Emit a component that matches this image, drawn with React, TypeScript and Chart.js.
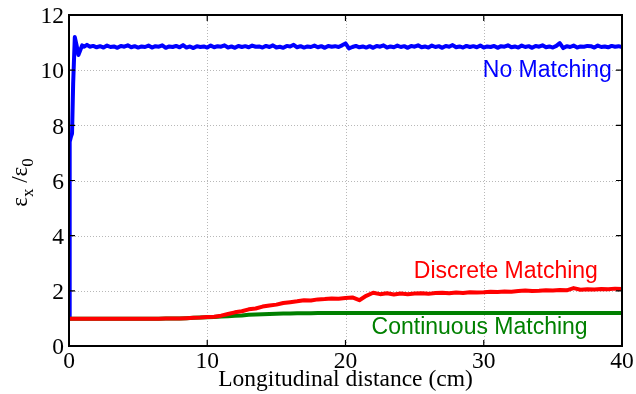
import React, { useEffect, useRef } from "react";
import { Chart, registerables } from "chart.js";

Chart.register(...registerables);

const distance = [
  0, 0.5, 1, 1.5, 2, 2.5, 3, 3.5, 4, 4.5, 5, 5.5, 6, 6.5, 7, 7.5, 8, 8.5, 9, 9.5,
  10, 10.5, 11, 11.5, 12, 12.5, 13, 13.5, 14, 14.5, 15, 15.5, 16, 16.5, 17, 17.5, 18, 18.5, 19, 19.5,
  20, 20.5, 21, 21.5, 22, 22.5, 23, 23.5, 24, 24.5, 25, 25.5, 26, 26.5, 27, 27.5, 28, 28.5, 29, 29.5,
  30, 30.5, 31, 31.5, 32, 32.5, 33, 33.5, 34, 34.5, 35, 35.5, 36, 36.5, 37, 37.5, 38, 38.5, 39, 39.5, 40,
];

const discreteMatching = [
  0.99, 0.99, 0.99, 0.99, 0.99, 0.99, 0.99, 0.99, 0.99, 0.99, 0.99, 0.99, 0.99, 0.99, 1.0, 1.0, 1.0, 1.01, 1.02, 1.03,
  1.05, 1.06, 1.1, 1.16, 1.22, 1.26, 1.33, 1.36, 1.43, 1.47, 1.5, 1.56, 1.59, 1.62, 1.66, 1.65, 1.69, 1.7, 1.72, 1.71,
  1.74, 1.76, 1.66, 1.82, 1.93, 1.88, 1.91, 1.87, 1.9, 1.88, 1.9, 1.91, 1.89, 1.92, 1.93, 1.91, 1.94, 1.92, 1.95, 1.94,
  1.95, 1.97, 1.96, 1.98, 1.97, 1.99, 2.01, 1.99, 2.0, 2.02, 2.01, 2.03, 2.02, 2.1, 2.04, 2.06, 2.05, 2.07, 2.06, 2.08, 2.07,
];

const continuousMatching = [
  0.99, 0.99, 0.99, 0.99, 0.99, 0.99, 0.99, 0.99, 0.99, 0.99, 0.99, 0.99, 0.99, 0.99, 1.0, 1.0, 1.0, 1.01, 1.02, 1.03,
  1.04, 1.05, 1.07, 1.08, 1.1, 1.11, 1.13, 1.14, 1.15, 1.16, 1.17, 1.175, 1.18, 1.185, 1.19, 1.19, 1.195, 1.195, 1.2, 1.2,
  1.2, 1.2, 1.2, 1.2, 1.2, 1.2, 1.2, 1.2, 1.2, 1.2, 1.2, 1.2, 1.2, 1.2, 1.2, 1.2, 1.2, 1.2, 1.2, 1.2,
  1.2, 1.2, 1.2, 1.2, 1.2, 1.2, 1.2, 1.2, 1.2, 1.2, 1.2, 1.2, 1.2, 1.2, 1.2, 1.2, 1.2, 1.2, 1.2, 1.2, 1.2,
];

// first, densely sampled part of the "No Matching" curve
const noMatchingStartX = [0, 0.05, 0.15, 0.22, 0.3, 0.42, 0.55, 0.68, 0.8, 0.95, 1.1, 1.3, 1.5];
const noMatchingStart = [1.0, 7.4, 7.6, 7.7, 9.5, 11.2, 10.9, 10.55, 10.7, 10.9, 10.85, 10.92, 10.85];
// rest of the curve, sampled every 0.25 cm from 1.75 to 40
const noMatchingTailStart = 1.75;
const noMatchingTailStep = 0.25;
const noMatchingTail = [
  10.88, 10.83, 10.87, 10.82, 10.89, 10.84, 10.86, 10.81, 10.88, 10.85, 10.9, 10.83, 10.87, 10.82, 10.86, 10.84,
  10.89, 10.82, 10.87, 10.85, 10.9, 10.81, 10.86, 10.84, 10.88, 10.83, 10.91, 10.82, 10.86, 10.8, 10.87, 10.84,
  10.86, 10.82, 10.89, 10.83, 10.87, 10.85, 10.9, 10.82, 10.86, 10.81, 10.88, 10.84, 10.87, 10.83, 10.89, 10.85,
  10.86, 10.82, 10.88, 10.84, 10.9, 10.82, 10.85, 10.81, 10.88, 10.86, 10.92, 10.83, 10.87, 10.82, 10.86, 10.84,
  10.89, 10.83, 10.87, 10.81, 10.88, 10.85, 10.87, 10.84, 10.9, 10.97, 10.79, 10.84, 10.88, 10.83, 10.86, 10.82,
  10.87, 10.81, 10.88, 10.85, 10.9, 10.82, 10.86, 10.83, 10.89, 10.84, 10.87, 10.81, 10.88, 10.85, 10.9, 10.83,
  10.86, 10.82, 10.89, 10.84, 10.87, 10.81, 10.88, 10.85, 10.91, 10.83, 10.86, 10.82, 10.88, 10.84, 10.87, 10.83,
  10.89, 10.82, 10.86, 10.84, 10.88, 10.81, 10.87, 10.85, 10.9, 10.83, 10.86, 10.82, 10.89, 10.84, 10.87, 10.81,
  10.88, 10.85, 10.9, 10.83, 10.86, 10.82, 10.88, 10.98, 10.8, 10.87, 10.84, 10.89, 10.82, 10.86, 10.85, 10.88,
  10.87, 10.82, 10.89, 10.84, 10.86, 10.83, 10.88, 10.85,
  10.87, 10.84,
];

const xTicks = [0, 10, 20, 30, 40];
const yTicks = [0, 2, 4, 6, 8, 10, 12];

const seriesLabels = [
  { text: "No Matching", x: 34.6, y: 9.97, color: "#0000ff" },
  { text: "Discrete Matching", x: 31.6, y: 2.68, color: "#ff0000" },
  { text: "Continuous Matching", x: 29.7, y: 0.65, color: "#008000" },
];

const xTitle = "Longitudinal distance (cm)";

function zip(xs: number[], ys: number[]) {
  const n = Math.min(xs.length, ys.length);
  const out: { x: number; y: number }[] = [];
  for (let i = 0; i < n; i++) out.push({ x: xs[i], y: ys[i] });
  return out;
}

const noMatchingX = [
  ...noMatchingStartX,
  ...noMatchingTail.map((_, i) => noMatchingTailStart + i * noMatchingTailStep),
];
const noMatchingY = [...noMatchingStart, ...noMatchingTail];

const serif = "'Liberation Serif', 'DejaVu Serif', serif";
const sans = "'Liberation Sans', Arial, sans-serif";

const decorPlugin = {
  id: "decor",
  beforeDatasetsDraw(chart: any) {
    const { ctx, chartArea: a, scales } = chart;
    const xs = scales.x;
    const ys = scales.y;
    ctx.save();
    ctx.strokeStyle = "#b8b8b8";
    ctx.lineWidth = 1;
    ctx.setLineDash([1, 2]);
    for (const t of xTicks) {
      const px = Math.round(xs.getPixelForValue(t)) + 0.5;
      if (t === xTicks[0] || t === xTicks[xTicks.length - 1]) continue;
      ctx.beginPath();
      ctx.moveTo(px, a.top);
      ctx.lineTo(px, a.bottom);
      ctx.stroke();
    }
    for (const t of yTicks) {
      const py = Math.round(ys.getPixelForValue(t)) + 0.5;
      if (t === yTicks[0] || t === yTicks[yTicks.length - 1]) continue;
      ctx.beginPath();
      ctx.moveTo(a.left, py);
      ctx.lineTo(a.right, py);
      ctx.stroke();
    }
    ctx.restore();
  },
  afterDatasetsDraw(chart: any) {
    const { ctx, chartArea: a, scales } = chart;
    const xs = scales.x;
    const ys = scales.y;
    ctx.save();
    ctx.strokeStyle = "#000";
    ctx.lineWidth = 2;
    ctx.strokeRect(a.left, a.top, a.right - a.left, a.bottom - a.top);
    ctx.lineWidth = 1.2;
    const tl = 6;
    for (const t of xTicks) {
      const px = xs.getPixelForValue(t);
      ctx.beginPath();
      ctx.moveTo(px, a.bottom);
      ctx.lineTo(px, a.bottom - tl);
      ctx.moveTo(px, a.top);
      ctx.lineTo(px, a.top + tl);
      ctx.stroke();
    }
    for (const t of yTicks) {
      const py = ys.getPixelForValue(t);
      ctx.beginPath();
      ctx.moveTo(a.left, py);
      ctx.lineTo(a.left + tl, py);
      ctx.moveTo(a.right, py);
      ctx.lineTo(a.right - tl, py);
      ctx.stroke();
    }
    ctx.fillStyle = "#000";
    ctx.font = `23.5px ${serif}`;
    ctx.textAlign = "center";
    ctx.textBaseline = "middle";
    for (const t of xTicks) {
      ctx.fillText(String(t), xs.getPixelForValue(t), a.bottom + 16);
    }
    ctx.textAlign = "right";
    for (const t of yTicks) {
      ctx.fillText(String(t), a.left - 5, ys.getPixelForValue(t) + 2);
    }
    ctx.textAlign = "center";
    ctx.fillText(xTitle, (a.left + a.right) / 2, a.bottom + 34);
    // y title: ε_x/ε_0 rotated
    ctx.save();
    ctx.translate(27, (a.top + a.bottom) / 2 + 2);
    ctx.rotate(-Math.PI / 2);
    ctx.textAlign = "left";
    ctx.textBaseline = "alphabetic";
    const big = `23px ${serif}`;
    const small = `17px ${serif}`;
    const parts: [string, string, number][] = [
      ["ε", big, 0],
      ["x", small, 6],
      [" /", big, 0],
      ["ε", big, 0],
      ["0", small, 6],
    ];
    let w = 0;
    for (const [s, f] of parts) {
      ctx.font = f;
      w += ctx.measureText(s).width;
    }
    let cx = -w / 2;
    for (const [s, f, dy] of parts) {
      ctx.font = f;
      ctx.fillText(s, cx, dy);
      cx += ctx.measureText(s).width;
    }
    ctx.restore();
    ctx.font = `23px ${sans}`;
    ctx.textAlign = "center";
    ctx.textBaseline = "middle";
    for (const l of seriesLabels) {
      ctx.fillStyle = l.color;
      ctx.fillText(l.text, xs.getPixelForValue(l.x), ys.getPixelForValue(l.y));
    }
    ctx.restore();
  },
};

export default function App() {
  const ref = useRef<HTMLCanvasElement | null>(null);
  useEffect(() => {
    if (!ref.current) return;
    const common = {
      borderWidth: 4,
      pointRadius: 0,
      tension: 0,
      borderJoinStyle: "round" as const,
      borderCapStyle: "round" as const,
    };
    const chart = new Chart(ref.current, {
      type: "line",
      data: {
        datasets: [
          { label: "Discrete Matching", data: zip(distance, discreteMatching), borderColor: "#ff0000", ...common },
          { label: "Continuous Matching", data: zip(distance, continuousMatching), borderColor: "#008000", ...common },
          { label: "No Matching", data: zip(noMatchingX, noMatchingY), borderColor: "#0000ff", ...common },
        ],
      },
      options: {
        animation: false,
        responsive: false,
        maintainAspectRatio: false,
        layout: { padding: { left: 69, top: 15, right: 14, bottom: 48 } },
        plugins: { legend: { display: false }, tooltip: { enabled: false } },
        scales: {
          x: { type: "linear", min: 0, max: 40, display: false },
          y: { type: "linear", min: 0, max: 12, display: false },
        },
      },
      plugins: [decorPlugin],
    });
    return () => chart.destroy();
  }, []);
  return (
    <div style={{ position: "fixed", left: 0, top: 0, width: 636, height: 394, background: "#fff" }}>
      <canvas ref={ref} width={636} height={394} style={{ width: 636, height: 394, display: "block" }} />
    </div>
  );
}
